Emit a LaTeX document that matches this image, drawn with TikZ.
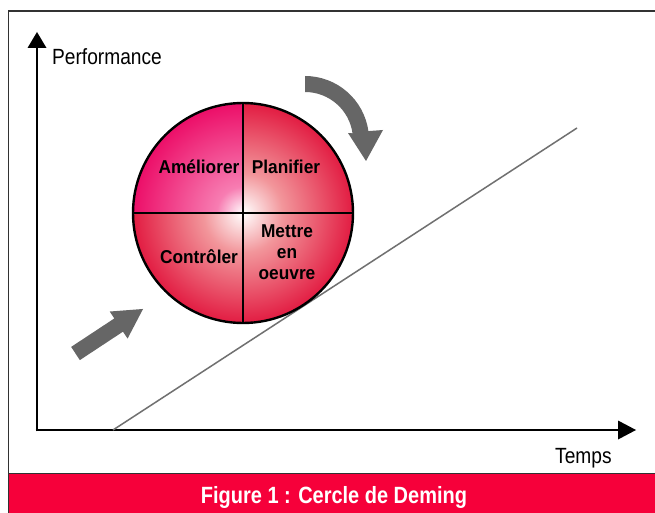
\documentclass[tikz,border=0pt]{standalone}
\usepackage{fontspec}
\usetikzlibrary{calc}
\setmainfont{Liberation Sans}
\newfontfamily\axisfont[FakeStretch=0.87]{Liberation Sans}
\newfontfamily\quadfont[FakeStretch=0.93]{Liberation Sans}
\newfontfamily\capfont[FakeStretch=0.85]{Liberation Sans}

\definecolor{pinkout}{RGB}{236,14,104}
\definecolor{pinkmid}{RGB}{247,125,178}
\definecolor{redout}{RGB}{226,28,66}
\definecolor{redmid}{RGB}{242,150,155}
\definecolor{capred}{RGB}{246,0,58}
\definecolor{arrowgray}{RGB}{102,102,102}
\definecolor{linegray}{RGB}{112,112,112}
\definecolor{framegray}{RGB}{50,50,50}

% white centre fading out to the quadrant colour at the rim
\pgfdeclareradialshading{pinkquad}{\pgfpoint{0bp}{0bp}}{color(0bp)=(white); color(6bp)=(pinkmid); color(25bp)=(pinkout); color(50bp)=(pinkout)}
\pgfdeclareradialshading{redquad}{\pgfpoint{0bp}{0bp}}{color(0bp)=(white); color(9bp)=(redmid); color(25bp)=(redout); color(50bp)=(redout)}

\tikzset{
  axisline/.style={line width=2.6pt, black},
  axislabel/.style={font=\axisfont\fontsize{22}{26}\selectfont, inner sep=0pt},
  quadlabel/.style={font=\quadfont\bfseries\fontsize{18.6}{21}\selectfont, inner sep=0pt, align=center},
  divider/.style={line width=2.4pt, black},
  bigarrow/.style={fill=arrowgray, draw=none},
}

\begin{document}
\begin{tikzpicture}[x=1pt, y=-1pt]
\useasboundingbox (0,0) rectangle (655,513);
\fill[white] (0,0) rectangle (655,513);

% frame and caption band
\draw[framegray, line width=1.4pt] (8.5,513) -- (8.5,11) -- (655,11);
\fill[capred] (8.5,474) rectangle (655,513);
\draw[framegray, line width=1.4pt] (8.5,473.5) -- (655,473.5);
\node[font=\capfont\bfseries\fontsize{23.5}{26}\selectfont, text=white, anchor=base, inner sep=0pt]
  (caption) at (334,503) {Figure 1 : Cercle de Deming};

% axes
\coordinate (origin) at (37,430);
\coordinate (ytip) at (37,32);
\coordinate (xtip) at (636,430);
\draw[axisline] (37,431.3) -- (37,46);
\draw[axisline] (35.7,430) -- (620,430);
\fill (ytip) -- (46.5,48) -- (27.5,48) -- cycle;
\fill (xtip) -- (618,420.5) -- (618,439.5) -- cycle;
\node[axislabel, anchor=base west] (perf) at (52,65) {Performance};
\node[axislabel, anchor=base west] (temps) at (555,463) {Temps};

% growth line the wheel rolls on
\coordinate (slopeA) at (113,430);
\coordinate (slopeB) at (577,128);
\draw[linegray, line width=1.5pt] (slopeA) -- (slopeB);

% the wheel: four shaded quadrants
\coordinate (C) at (243,213);
\begin{scope}
  \clip (130,100) rectangle (243,213);
  \shade[shading=pinkquad] (C) circle[radius=110];
\end{scope}
\begin{scope}
  \clip (243,100) rectangle (356,213);
  \shade[shading=redquad] (C) circle[radius=110];
\end{scope}
\begin{scope}
  \clip (130,213) rectangle (243,326);
  \shade[shading=redquad] (C) circle[radius=110];
\end{scope}
\begin{scope}
  \clip (243,213) rectangle (356,326);
  \shade[shading=redquad] (C) circle[radius=110];
\end{scope}
\node[circle, draw, line width=2.4pt, minimum size=220pt, inner sep=0pt, outer sep=0pt] (wheel) at (C) {};
\draw[divider] (wheel.north) -- (wheel.south);
\draw[divider] (wheel.west) -- (wheel.east);

\node[quadlabel, anchor=base] (act)  at (199,174) {Améliorer};
\node[quadlabel, anchor=base] (plan) at (286,174) {Planifier};
\node[quadlabel, anchor=base] (check) at (199,263) {Contrôler};
\node[quadlabel, anchor=base] (mettre) at (287,237) {Mettre};
\node[quadlabel, anchor=base] (en) at (287,258) {en};
\node[quadlabel, anchor=base] (oeuvre) at (287,279) {oeuvre};

% rotation arrow above the wheel
\coordinate (turn) at (305,140);
\fill[bigarrow] (305,76) arc[start angle=-90, end angle=-8, radius=64]
  -- (383,130) -- (366,161) -- (348,133)
  -- ($(turn)+(-8:48)$) arc[start angle=-8, end angle=-90, radius=48] -- cycle;

% push arrow below the wheel, pointing up the slope
\begin{scope}[shift={(75.5,353.5)}, rotate=33.4]
  \fill[bigarrow] (0,-7.9) -- (51.7,-7.9) -- (51.7,-16.2) -- (80.9,0)
    -- (51.7,16.2) -- (51.7,7.9) -- (0,7.9) -- cycle;
\end{scope}
\end{tikzpicture}
\end{document}
